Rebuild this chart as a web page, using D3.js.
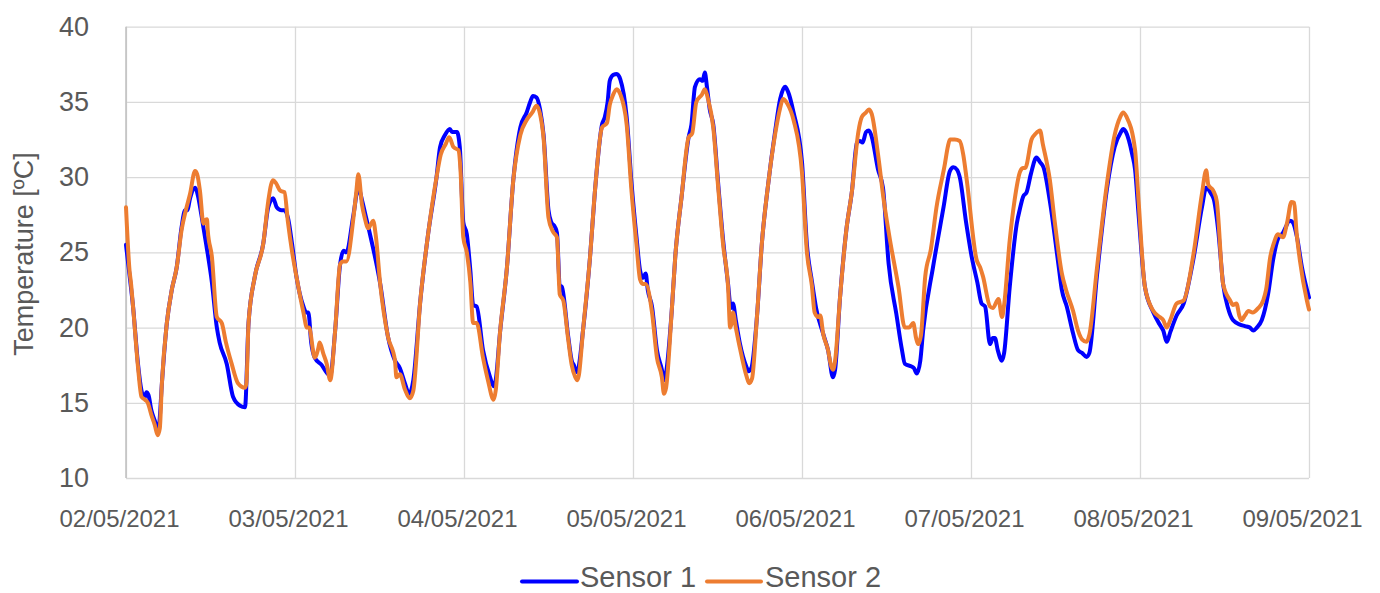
<!DOCTYPE html>
<html>
<head>
<meta charset="utf-8">
<script src="https://cdn.jsdelivr.net/npm/d3@7/dist/d3.min.js"></script>
<style>
  html, body { margin: 0; padding: 0; background: #ffffff; }
  svg { display: block; font-family: "Liberation Sans", Arial, sans-serif; }
</style>
</head>
<body>
<svg id="chart" width="1380" height="593"></svg>
<script>
// Hours after 02/05/2021 00:00 and temperature (°C) for each sensor
const hoursS1 = [0,0.5,1.0,1.7,2.2,2.6,2.9,3.2,3.6,4.1,4.5,4.7,5.1,5.8,6.5,7.2,7.9,8.4,8.7,9.1,9.8,10.2,10.7,11.4,12.2,12.9,13.3,14.3,15.2,16.2,16.9,17.4,18.3,19.5,20.2,20.9,21.4,22.1,22.5,23.0,23.6,24.2,25.2,25.6,25.9,26.3,26.8,27.8,28.5,29.0,29.7,30.4,30.9,31.3,32.3,33.0,33.5,34.1,34.6,36.1,37.2,38.2,38.9,39.6,40.2,40.8,41.8,42.9,44.1,44.6,45.3,46.0,46.3,47.0,47.4,47.9,48.4,48.9,49.3,49.8,50.7,51.7,52.2,52.5,53.1,54.1,55.0,56.0,56.9,57.4,57.8,58.3,58.8,59.3,60.0,60.4,60.9,61.2,61.6,61.9,62.8,63.3,63.6,64.0,64.2,64.9,65.9,66.6,67.6,68.0,68.4,68.7,69.2,69.7,70.2,71.1,71.8,72.5,73.0,73.4,73.8,74.1,74.7,75.4,76.1,76.4,76.7,77.5,78.0,78.9,79.9,80.3,80.8,81.5,81.9,82.2,82.5,82.9,83.4,84.1,84.8,85.5,85.9,86.2,86.6,87.2,88.1,88.4,88.8,89.6,90.3,91.2,92.2,92.9,93.6,94.0,94.8,96.0,96.7,97.4,98.0,99.0,99.7,100.4,100.7,101.4,102.3,103.1,103.8,104.2,104.6,105.1,105.5,105.9,106.8,107.5,108.3,109.4,110.2,110.6,111.6,111.9,112.3,112.8,113.2,114.6,116.1,117.0,117.5,118.0,118.4,119.3,120.1,120.9,121.5,122.0,122.7,123.1,123.4,123.8,124.4,124.7,125.5,126.5,127.0,127.4,127.9,128.5,129.3,129.8,130.3,131.2,132.4,132.9,133.6,134.5,135.2,135.8,136.4,136.8,137.9,139.3,140.4,141.3,141.6,142.0,142.9,143.3,143.8,144.7,145.9,146.8,147.3,147.8,148.3,149.2,150.2,151.6,152.8,153.4,154.1,154.5,155.1,155.8,156.5,157.2,158.2,158.9,159.6,160.1,160.6,161.3,162.2,162.9,163.6,164.3,165.3,165.7,166.3,167.0,168];
const sensor1 = [25.5,23.5,21.4,17.6,15.8,15.3,15.7,15.5,14.5,13.8,13.2,13.5,16.3,20.3,22.5,24.0,26.7,27.8,27.8,28.6,29.3,28.8,27.5,25.5,23.0,20.0,19.0,17.6,15.4,14.8,14.7,20.3,23.4,25.6,28.0,28.6,28.0,27.8,27.8,27.3,25.5,23.4,21.4,21.0,21.0,19.0,18.0,17.5,17.0,16.8,19.8,24.2,25.1,25.0,27.5,29.3,28.5,27.3,26.3,22.9,19.4,17.8,17.3,16.3,15.6,16.5,21.8,26.2,30.0,32.0,32.8,33.2,33.0,33.0,32.0,27.0,26.2,23.8,21.5,21.4,18.5,16.7,16.1,16.5,19.6,24.0,29.8,33.3,34.3,35.0,35.4,35.3,34.5,32.8,27.8,27.0,26.7,26.3,22.8,22.7,19.4,17.8,17.5,17.05,17.2,19.8,24.7,29.1,33.5,34.0,35.0,36.4,36.8,36.85,36.5,34.0,29.55,26.0,23.8,23.3,23.6,22.5,21.4,18.5,17.2,16.5,17.0,21.1,24.7,28.7,32.65,33.5,36.0,36.5,36.4,36.96,36.0,34.5,33.5,29.55,25.8,22.9,21.3,21.6,20.5,18.9,17.4,17.1,17.3,20.7,25.6,29.55,33.1,35.2,36.0,35.7,34.3,31.0,25.5,23.1,21.3,19.6,18.5,16.7,17.2,22.0,26.5,29.1,32.3,32.4,32.3,33.0,33.1,32.7,30.5,29.3,24.25,20.9,18.5,17.6,17.4,17.3,16.95,17.8,19.8,24.0,28.0,30.4,30.65,30.5,30.0,27.0,24.7,23.0,21.6,21.4,18.9,19.3,19.3,18.5,17.8,18.3,22.7,26.9,28.0,28.7,29.0,30.2,31.3,31.0,30.65,28.4,24.25,22.5,21.4,19.6,18.5,18.3,18.05,18.3,23.5,29.2,32.0,33.0,33.2,33.0,31.5,30.5,27.5,22.7,21.0,20.2,19.8,19.05,19.7,20.8,21.6,24.6,28.0,29.3,28.9,28.5,26.5,22.9,21.3,20.5,20.2,20.1,20.0,19.8,20.0,20.5,22.25,24.5,25.9,26.3,27.1,27.0,26.0,24.0,22.0];

const hoursS2 = [0,0.5,0.7,1.0,1.7,2.2,2.7,3.1,3.6,4.1,4.5,4.8,5.1,5.8,6.5,7.2,7.9,8.5,9.1,9.8,10.1,10.5,11.0,11.2,11.5,11.6,12.2,12.9,13.6,14.2,15.0,15.9,16.9,17.1,17.4,18.3,19.5,20.2,20.6,20.9,21.3,21.9,22.5,23.0,23.6,24.2,25.2,25.7,26.0,26.8,27.3,27.5,28.0,28.5,29.0,29.7,30.4,30.8,31.3,32.3,32.7,33.0,33.5,33.9,34.4,34.8,35.1,35.5,36.1,37.2,38.2,38.4,38.9,39.6,40.3,40.8,41.8,42.9,44.1,44.7,45.4,45.9,46.5,47.2,47.5,47.9,48.4,48.9,49.3,49.8,50.7,51.4,52.2,52.5,53.1,54.1,55.0,56.0,56.9,57.7,58.3,58.8,59.3,60.0,60.6,61.2,61.6,62.1,62.8,63.3,63.8,64.1,64.3,64.9,65.9,66.6,67.6,68.3,68.7,69.2,69.7,70.2,71.1,71.8,72.5,73.0,73.4,73.8,74.7,75.4,76.1,76.4,76.7,77.5,78.0,78.9,79.9,80.4,81.0,81.8,82.2,82.6,83.4,84.1,84.8,85.5,85.8,86.0,86.2,86.6,87.2,88.1,88.5,88.9,89.6,90.3,91.2,92.2,92.9,93.3,93.9,94.8,96.0,96.7,97.4,97.8,98.3,98.6,99.0,99.7,100.1,100.4,100.7,101.4,102.3,103.1,104.0,104.5,105.1,105.5,105.9,106.8,107.6,108.5,109.7,110.6,111.2,111.8,112.2,112.5,112.9,113.5,114.3,115.1,116.3,116.7,117.0,117.7,118.4,118.9,119.4,120.8,121.3,121.7,122.7,123.1,123.9,124.4,124.7,125.5,126.2,127.0,127.4,127.7,128.6,129.2,129.8,130.2,131.2,131.9,132.9,133.5,134.5,135.2,135.8,136.4,136.8,137.9,139.3,140.4,141.2,141.6,142.1,143.3,143.8,144.7,145.9,146.8,147.3,147.8,148.3,149.2,150.2,151.6,152.8,153.4,153.7,154.4,154.9,155.8,156.8,157.2,157.7,158.1,158.4,158.9,159.4,160.0,160.8,161.5,161.9,162.5,163.0,163.6,164.3,164.9,165.5,165.9,166.2,166.7,167.7,168];
const sensor2 = [28.0,23.8,23.0,21.4,17.4,15.4,15.2,15.0,14.2,13.5,12.85,13.3,16.3,20.3,22.5,24.0,26.5,27.8,28.9,30.4,30.2,29.1,26.9,27.1,27.2,26.5,24.7,20.7,20.3,19.0,17.6,16.3,16.0,16.3,20.3,23.4,25.6,28.4,29.5,29.8,29.6,29.1,29.0,27.0,25.0,23.4,21.0,20.0,20.0,18.0,18.6,19.0,18.3,17.6,16.5,19.8,24.2,24.4,24.4,27.3,29.0,30.2,28.2,27.3,26.6,26.9,27.1,26.0,22.9,19.4,17.8,16.7,16.9,15.9,15.3,15.8,21.8,26.2,30.0,31.5,32.2,32.65,32.0,31.8,30.5,26.0,25.0,23.0,20.3,20.3,18.0,16.5,15.2,15.8,19.6,24.0,29.8,32.8,33.8,34.3,34.75,34.2,32.6,27.3,26.4,26.0,22.2,21.8,19.2,17.5,16.7,16.5,16.8,19.8,24.7,29.1,33.3,33.6,34.8,35.5,35.85,35.5,33.5,29.0,25.5,23.2,22.9,22.9,21.0,18.0,16.7,15.6,16.0,21.1,24.7,28.7,32.65,32.9,35.0,35.5,35.85,35.3,33.3,29.3,25.5,22.7,20.0,20.3,21.0,20.0,18.6,16.8,16.3,16.6,20.7,25.6,29.55,32.9,34.6,35.2,34.9,33.8,30.3,25.0,22.8,21.0,20.7,20.8,19.6,18.5,17.5,17.2,17.8,22.0,26.5,29.1,33.0,34.0,34.3,34.5,34.2,31.5,28.5,25.8,22.7,20.0,20.0,20.3,19.3,18.9,19.5,23.4,25.2,28.0,30.9,32.0,32.5,32.5,32.4,31.5,29.8,24.5,24.0,23.4,21.4,21.3,21.9,20.7,21.5,25.8,28.5,30.4,30.6,30.6,32.5,32.9,33.1,32.2,29.8,27.0,23.6,22.5,21.1,19.8,19.2,19.05,19.5,24.0,29.55,32.8,34.0,34.3,34.0,31.8,28.4,22.7,21.1,20.7,20.5,20.0,20.5,21.6,21.8,24.9,28.9,30.45,29.5,29.1,28.4,22.9,21.8,21.5,21.6,20.8,20.5,20.8,21.1,21.0,21.3,21.8,22.5,24.7,25.6,26.2,26.0,27.0,28.35,28.3,26.5,24.5,21.8,21.2];

const dateLabels = ["02/05/2021","03/05/2021","04/05/2021","05/05/2021","06/05/2021","07/05/2021","08/05/2021","09/05/2021"];
const yTicks = [10,15,20,25,30,35,40];
const seriesNames = ["Sensor 1","Sensor 2"];
const seriesColors = ["#0000ff","#ed7d31"];

const parseDay = d3.timeParse("%d/%m/%Y");
const dayTicks = dateLabels.map(parseDay);
const startDay = dayTicks[0];
const toPoints = (hours, temps) => hours.map((h, i) => ({ t: new Date(startDay.getTime() + h * 3600000), v: temps[i] }));
const series = [toPoints(hoursS1, sensor1), toPoints(hoursS2, sensor2)];

const svg = d3.select("#chart");
const plotLeft = 126, plotRight = 1309, plotTop = 26.7, plotBottom = 478;

const x = d3.scaleTime().domain([dayTicks[0], dayTicks[dayTicks.length - 1]]).range([plotLeft, plotRight]);
const y = d3.scaleLinear().domain([10, 40]).range([plotBottom, plotTop]);

// horizontal gridlines
svg.append("g")
  .attr("transform", `translate(${plotLeft},0)`)
  .call(d3.axisLeft(y).tickValues(yTicks).tickSize(-(plotRight - plotLeft)).tickFormat(""))
  .call(g => g.select(".domain").remove())
  .call(g => g.selectAll("line").attr("stroke", "#d9d9d9").attr("stroke-width", 1.3));

// vertical gridlines
svg.append("g")
  .attr("transform", `translate(0,${plotBottom})`)
  .call(d3.axisBottom(x).tickValues(dayTicks).tickSize(-(plotBottom - plotTop)).tickFormat(""))
  .call(g => g.select(".domain").remove())
  .call(g => g.selectAll("line").attr("stroke", "#d9d9d9").attr("stroke-width", 1.3));

// left axis line
svg.append("line")
  .attr("x1", plotLeft).attr("x2", plotLeft).attr("y1", plotTop).attr("y2", plotBottom)
  .attr("stroke", "#bfbfbf").attr("stroke-width", 1.5);

// y tick labels
svg.append("g")
  .attr("transform", `translate(${plotLeft},0)`)
  .call(d3.axisLeft(y).tickValues(yTicks).tickSize(0).tickPadding(37).tickFormat(d3.format("d")))
  .call(g => g.select(".domain").remove())
  .call(g => g.selectAll("text")
    .attr("font-size", 27).attr("fill", "#595959")
    .attr("font-family", "'Liberation Sans', Arial, sans-serif"));

// x tick labels
svg.append("g")
  .attr("transform", `translate(0,${plotBottom})`)
  .call(d3.axisBottom(x).tickValues(dayTicks).tickSize(0).tickPadding(32).tickFormat(d3.timeFormat("%d/%m/%Y")))
  .call(g => g.select(".domain").remove())
  .call(g => g.selectAll("text")
    .attr("font-size", 24).attr("dx", -7).attr("fill", "#595959")
    .attr("font-family", "'Liberation Sans', Arial, sans-serif"));

// y axis title
svg.append("text")
  .attr("transform", `translate(33,${(150 + 358) / 2}) rotate(-90)`)
  .attr("text-anchor", "middle")
  .attr("font-size", 27).attr("fill", "#595959")
  .text("Temperature [ºC]");

// temperature lines
const line = d3.line().x(d => x(d.t)).y(d => y(d.v)).curve(d3.curveMonotoneX);
series.forEach((pts, i) => {
  svg.append("path")
    .datum(pts)
    .attr("fill", "none")
    .attr("stroke", seriesColors[i])
    .attr("stroke-width", 4)
    .attr("stroke-linejoin", "round")
    .attr("stroke-linecap", "round")
    .attr("d", line);
});

// legend
const legendItems = [
  { x1: 522, x2: 577, tx: 580 },
  { x1: 707, x2: 761, tx: 765 }
];
legendItems.forEach((it, i) => {
  svg.append("line")
    .attr("x1", it.x1).attr("x2", it.x2).attr("y1", 581.5).attr("y2", 581.5)
    .attr("stroke", seriesColors[i]).attr("stroke-width", 4).attr("stroke-linecap", "round");
  svg.append("text")
    .attr("x", it.tx).attr("y", 587)
    .attr("font-size", 29).attr("fill", "#595959")
    .text(seriesNames[i]);
});
</script>
</body>
</html>
